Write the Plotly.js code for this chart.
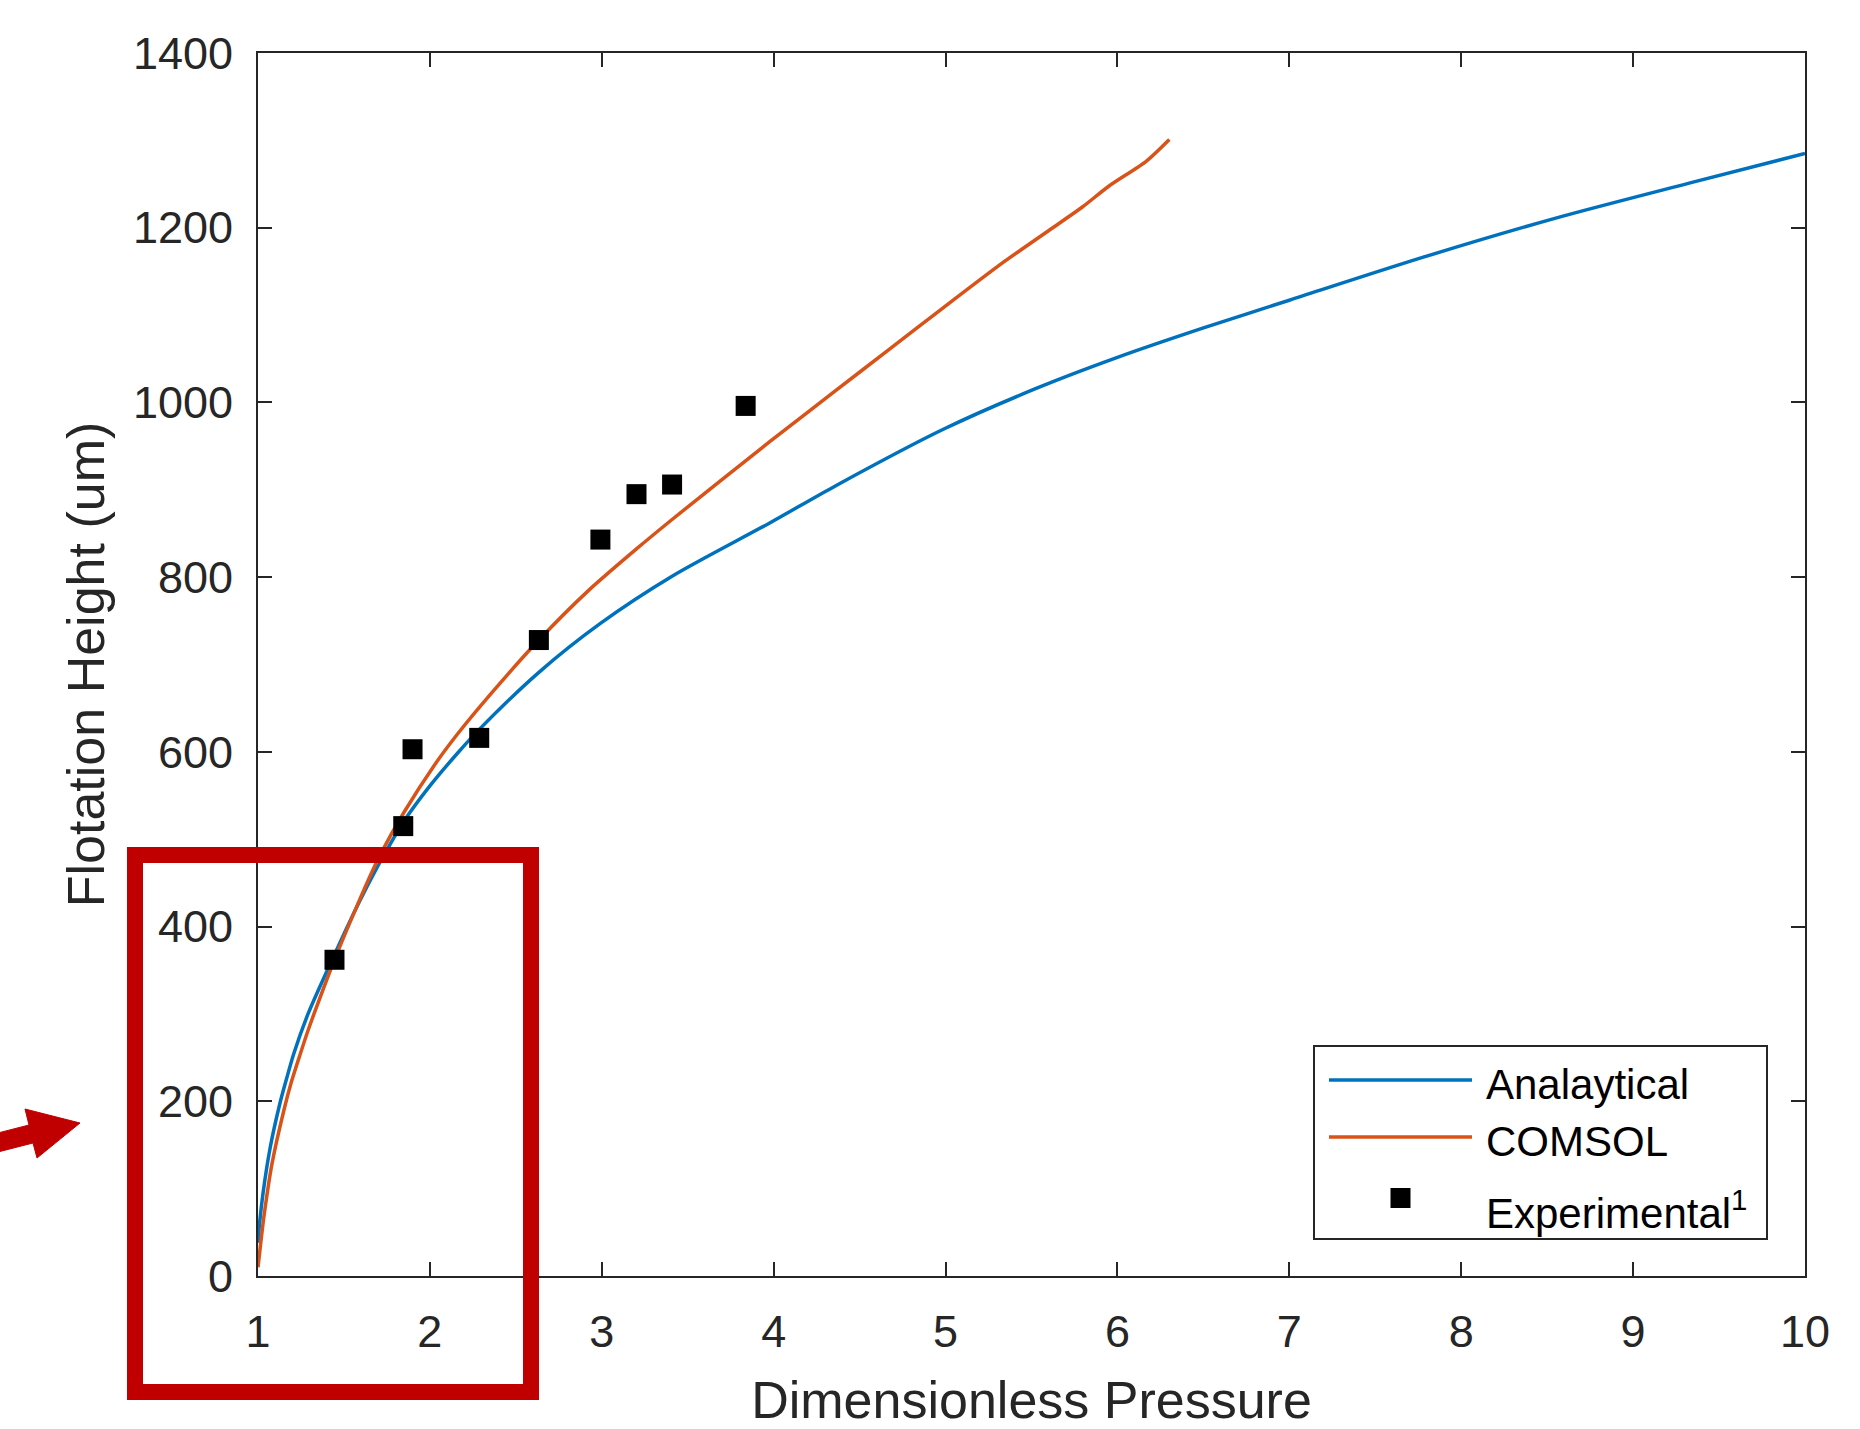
<!DOCTYPE html>
<html>
<head>
<meta charset="utf-8">
<script src="https://cdn.plot.ly/plotly-3.0.1.min.js"></script>
<style>
html,body{margin:0;padding:0;background:#ffffff;}
#chart{width:1860px;height:1429px;}
</style>
</head>
<body>
<div id="chart"></div>
<script>
// ---- data ----
const analyticalX = [1.000, 1.010, 1.030, 1.070, 1.128, 1.165, 1.209, 1.291, 1.445, 1.581, 1.688, 1.736, 1.847, 2.000, 2.163, 2.289, 2.634, 2.992, 3.409, 3.977, 4.364, 4.984, 5.527, 5.992, 6.496, 7.000, 7.775, 8.550, 9.326, 10.000];
const analyticalY = [38, 62, 96, 146, 198, 225, 255, 300, 368, 425, 466, 483, 520, 561, 599, 626, 691, 747, 801, 862, 905, 969, 1016, 1051, 1085, 1117, 1166, 1211, 1251, 1285];

const comsolX = [1.000, 1.020, 1.040, 1.081, 1.151, 1.194, 1.244, 1.291, 1.337, 1.445, 1.581, 1.669, 1.713, 1.847, 2.027, 2.163, 2.357, 2.634, 2.919, 3.200, 3.409, 3.977, 4.364, 4.674, 4.984, 5.333, 5.624, 5.798, 5.953, 6.167, 6.302];
const comsolY = [10, 45, 76, 128, 190, 222, 253, 281, 306, 362, 426, 465, 483, 530, 585, 621, 667, 728, 784, 832, 866, 955, 1014, 1061, 1108, 1160, 1200, 1224, 1248, 1276, 1301];

const experimentalX = [1.445, 1.845, 1.899, 2.287, 2.634, 2.992, 3.202, 3.409, 3.837];
const experimentalY = [362, 515, 603, 616, 728, 843, 895, 906, 996];

const seriesNames = ['Analaytical', 'COMSOL', 'Experimental<sup>1</sup>'];
const seriesColors = ['#0072BD', '#D95319', '#000000'];

const xTickVals = [1, 2, 3, 4, 5, 6, 7, 8, 9, 10];
const yTickVals = [0, 200, 400, 600, 800, 1000, 1200, 1400];

const xTitle = 'Dimensionless Pressure';
const yTitle = 'Flotation Height (um)';

// ---- layout geometry (pixels) ----
const FONT = 'Liberation Sans, Arial, Helvetica, sans-serif';
const AXC = '#262626';
const W = 1860, H = 1429;
const L = 258, R = 1805, T = 53, B = 1276;
const px = x => (x - L) / (R - L);
const py = y => (B - y) / (B - T);

// ---- traces ----
const traces = [
  {x: analyticalX, y: analyticalY, name: seriesNames[0], type: 'scatter', mode: 'lines',
   line: {color: seriesColors[0], width: 3.5, shape: 'spline', smoothing: 0.8}},
  {x: comsolX, y: comsolY, name: seriesNames[1], type: 'scatter', mode: 'lines',
   line: {color: seriesColors[1], width: 3.5, shape: 'spline', smoothing: 0.7}},
  {x: experimentalX, y: experimentalY, name: seriesNames[2], type: 'scatter', mode: 'markers',
   marker: {symbol: 'square', size: 20, color: seriesColors[2]}}
];

// ---- custom legend (long line samples as in the reference) ----
const legBox = {x0: 1314, x1: 1767, y0: 1046, y1: 1239};
const legRowsY = [1080, 1137, 1198];
const legLine = {x0: 1329, x1: 1472};
const legTextX = 1484;
const legTextY = [1084, 1141, 1210];

const shapes = [];
shapes.push({type: 'rect', xref: 'paper', yref: 'paper',
  x0: px(legBox.x0), x1: px(legBox.x1), y0: py(legBox.y1), y1: py(legBox.y0),
  line: {color: AXC, width: 2}, fillcolor: '#ffffff', layer: 'above'});
for (let i = 0; i < 2; i++) {
  shapes.push({type: 'line', xref: 'paper', yref: 'paper',
    x0: px(legLine.x0), x1: px(legLine.x1), y0: py(legRowsY[i]), y1: py(legRowsY[i]),
    line: {color: seriesColors[i], width: 3.5}, layer: 'above'});
}
const mcx = (legLine.x0 + legLine.x1) / 2, mcy = legRowsY[2], mh = 10;
shapes.push({type: 'rect', xref: 'paper', yref: 'paper',
  x0: px(mcx - mh), x1: px(mcx + mh), y0: py(mcy + mh), y1: py(mcy - mh),
  line: {width: 0}, fillcolor: seriesColors[2], layer: 'above'});

// ---- red highlight box and arrow ----
const RED = '#C00000';
shapes.push({type: 'rect', xref: 'paper', yref: 'paper',
  x0: px(135), x1: px(531), y0: py(1392), y1: py(855),
  line: {color: RED, width: 16}, fillcolor: 'rgba(0,0,0,0)', layer: 'above'});
const arrowPts = [[-6, 1134], [29, 1125], [25, 1109], [80, 1123], [37, 1158], [33, 1143], [-6, 1153]];
const arrowPath = 'M ' + arrowPts.map(p => px(p[0]) + ',' + py(p[1])).join(' L ') + ' Z';
shapes.push({type: 'path', xref: 'paper', yref: 'paper', path: arrowPath,
  fillcolor: RED, line: {color: RED, width: 1}, layer: 'above'});

const annotations = [];
for (let i = 0; i < 3; i++) {
  annotations.push({xref: 'paper', yref: 'paper', x: px(legTextX), y: py(legTextY[i]),
    xanchor: 'left', yanchor: 'middle', showarrow: false, text: seriesNames[i],
    font: {family: FONT, size: 42, color: '#000000'}});
}

const axisCommon = {
  ticks: 'inside', ticklen: 14, tickwidth: 2, tickcolor: AXC,
  showline: true, linecolor: AXC, linewidth: 2, mirror: 'ticks',
  showgrid: false, zeroline: false, automargin: false,
  tickfont: {family: FONT, size: 45, color: AXC}
};

const layout = {
  width: W, height: H,
  margin: {l: L, r: W - R, t: T, b: H - B, pad: 0},
  paper_bgcolor: '#ffffff', plot_bgcolor: '#ffffff',
  font: {family: FONT, color: AXC},
  showlegend: false,
  xaxis: Object.assign({}, axisCommon, {
    range: [1, 10], tickmode: 'array', tickvals: xTickVals, ticklabelstandoff: 15,
    title: {text: xTitle, font: {family: FONT, size: 52, color: AXC}, standoff: 37}
  }),
  yaxis: Object.assign({}, axisCommon, {
    range: [0, 1400], tickmode: 'array', tickvals: yTickVals, ticklabelstandoff: 14,
    title: {text: yTitle, font: {family: FONT, size: 52, color: AXC}, standoff: 12}
  }),
  shapes: shapes,
  annotations: annotations
};

Plotly.newPlot('chart', traces, layout, {displayModeBar: false, staticPlot: true});
</script>
</body>
</html>
